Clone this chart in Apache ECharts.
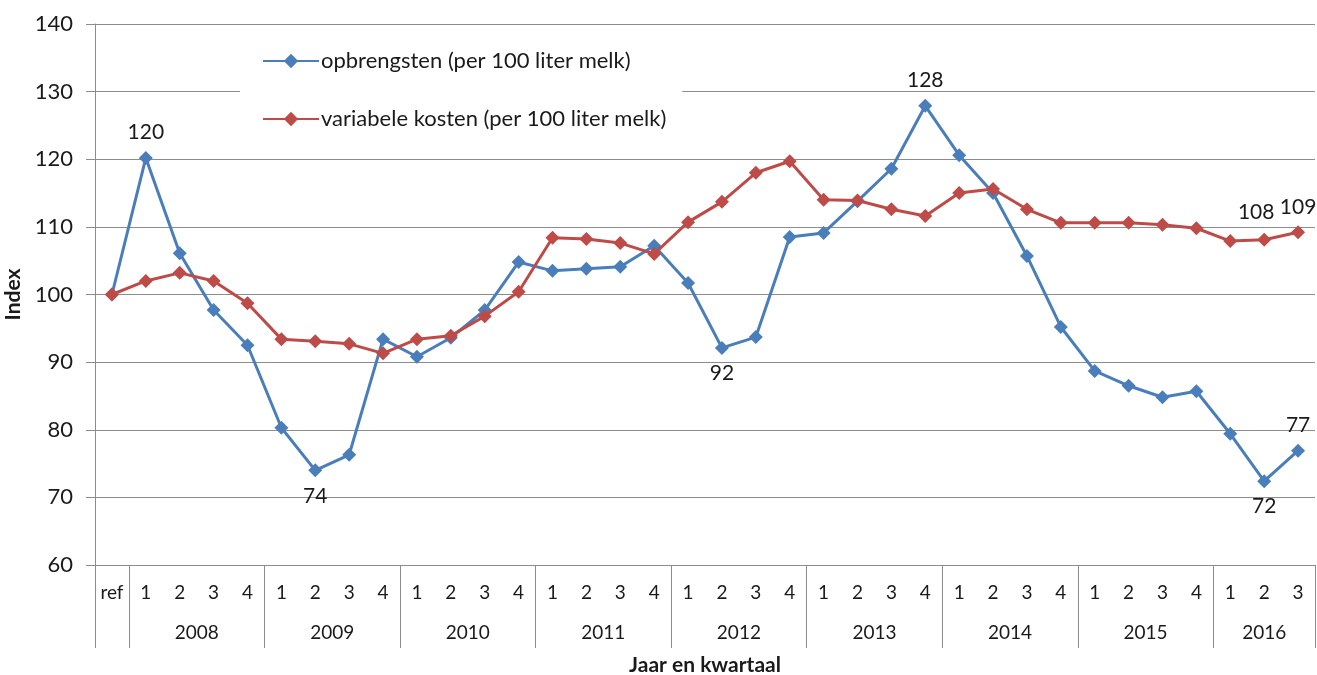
<!DOCTYPE html>
<html>
<head>
<meta charset="utf-8">
<title>Opbrengsten en variabele kosten melk</title>
<script src="https://cdn.jsdelivr.net/npm/echarts@6/dist/echarts.min.js"></script>
<style>
  html, body { margin: 0; padding: 0; background: #fff; }
  #chart { width: 1317px; height: 675px; }
</style>
</head>
<body>
<div id="chart"></div>
<script>
// categorieen: referentie + kwartalen 2008 t/m 2016 Q3
const quarterLabels = [
  'ref',
  '1', '2', '3', '4',
  '1', '2', '3', '4',
  '1', '2', '3', '4',
  '1', '2', '3', '4',
  '1', '2', '3', '4',
  '1', '2', '3', '4',
  '1', '2', '3', '4',
  '1', '2', '3', '4',
  '1', '2', '3'
];
const years = ['2008', '2009', '2010', '2011', '2012', '2013', '2014', '2015', '2016'];
const quartersPerYear = [4, 4, 4, 4, 4, 4, 4, 4, 3];

const opbrengsten = [
  100,
  120.2, 106.1, 97.7, 92.5,
  80.3, 74.0, 76.3, 93.4,
  90.8, 93.6, 97.7, 104.8,
  103.5, 103.8, 104.1, 107.2,
  101.7, 92.1, 93.7, 108.5,
  109.1, 113.8, 118.6, 127.9,
  120.6, 115.0, 105.7, 95.2,
  88.7, 86.5, 84.8, 85.7,
  79.4, 72.4, 76.9
];
const variabeleKosten = [
  100,
  102.0, 103.2, 102.0, 98.7,
  93.4, 93.1, 92.7, 91.3,
  93.4, 93.9, 96.8, 100.4,
  108.4, 108.2, 107.6, 106.0,
  110.7, 113.7, 118.0, 119.7,
  114.0, 113.9, 112.6, 111.6,
  115.0, 115.6, 112.6, 110.6,
  110.6, 110.6, 110.3, 109.8,
  107.9, 108.1, 109.2
];

// welke punten een waardelabel krijgen, en waar
const opbrengstenLabels = { 1: 'top', 6: 'bottom', 18: 'bottom', 24: 'top', 34: 'bottom', 35: 'top' };
const kostenLabels = { 34: 'top', 35: 'top' };
const labelShift = { 34: [-8, -2] };

const FONT = 'Lato, "Open Sans", sans-serif';
const GRID_COLOR = '#8c8c8c';
const TEXT_COLOR = '#1a1a1a';
const BLUE = '#4a7ebb';
const RED = '#be4b48';

// grenzen van de jaargroepen op de x-as (in categorie-eenheden)
const boundaries = [0, 1];
const yearCenters = {};
years.forEach((y, i) => {
  const start = boundaries[boundaries.length - 1];
  const end = start + quartersPerYear[i];
  boundaries.push(end);
  yearCenters[(start + end) / 2] = y;
});
const yearCenterValues = Object.keys(yearCenters).map(Number);

function withLabels(values, labelMap, shifts) {
  return values.map((v, i) => {
    if (!(i in labelMap)) return v;
    return {
      value: v,
      label: {
        show: true,
        position: labelMap[i],
        distance: 8,
        offset: (shifts && shifts[i]) || [0, 0],
        formatter: () => String(Math.round(v)),
        color: TEXT_COLOR,
        fontSize: 21,
        fontFamily: FONT
      }
    };
  });
}

const chart = echarts.init(document.getElementById('chart'));

const option = {
  backgroundColor: '#fff',
  animation: false,
  textStyle: { fontFamily: FONT },
  grid: { left: 95, right: 2, top: 24, bottom: 110, containLabel: false, outerBoundsMode: 'none' },
  legend: {
    orient: 'vertical',
    left: 240,
    top: 38,
    backgroundColor: '#fff',
    padding: [12, 16, 14, 22],
    itemWidth: 56,
    itemHeight: 18,
    itemGap: 36,
    textStyle: { fontSize: 22, color: TEXT_COLOR, fontFamily: FONT, padding: [0, 0, 0, -3] },
    data: ['opbrengsten (per 100 liter melk)', 'variabele kosten (per 100 liter melk)']
  },
  xAxis: [
    {
      type: 'category',
      data: quarterLabels,
      boundaryGap: true,
      name: 'Jaar en kwartaal',
      nameLocation: 'middle',
      nameGap: 90,
      nameTextStyle: { fontSize: 21, fontWeight: 'bold', color: TEXT_COLOR, fontFamily: FONT },
      axisLine: { show: true, lineStyle: { color: GRID_COLOR, width: 1 } },
      axisTick: { show: false },
      axisLabel: { interval: 0, fontSize: 19, color: TEXT_COLOR, margin: 18, fontFamily: FONT },
      splitLine: { show: false }
    },
    {
      type: 'value',
      position: 'bottom',
      min: 0,
      max: quarterLabels.length,
      axisLine: { show: true, lineStyle: { color: GRID_COLOR, width: 1 } },
      axisTick: {
        show: true,
        length: 83,
        customValues: boundaries,
        lineStyle: { color: GRID_COLOR, width: 1 }
      },
      axisLabel: {
        show: true,
        customValues: yearCenterValues,
        formatter: (v) => yearCenters[v] || '',
        fontSize: 19,
        color: TEXT_COLOR,
        margin: 58,
        fontFamily: FONT
      },
      splitLine: { show: false }
    }
  ],
  yAxis: {
    type: 'value',
    min: 60,
    max: 140,
    interval: 10,
    name: 'Index',
    nameLocation: 'middle',
    nameGap: 68,
    nameTextStyle: { fontSize: 21, fontWeight: 'bold', color: TEXT_COLOR, fontFamily: FONT },
    axisLine: { show: true, lineStyle: { color: GRID_COLOR, width: 1 } },
    axisTick: { show: true, length: 9, lineStyle: { color: GRID_COLOR } },
    axisLabel: { fontSize: 22, color: TEXT_COLOR, margin: 22, fontFamily: FONT },
    splitLine: { show: true, lineStyle: { color: GRID_COLOR, width: 1 } }
  },
  series: [
    {
      name: 'opbrengsten (per 100 liter melk)',
      type: 'line',
      xAxisIndex: 0,
      data: withLabels(opbrengsten, opbrengstenLabels),
      symbol: 'diamond',
      symbolSize: 14,
      lineStyle: { color: BLUE, width: 3 },
      itemStyle: { color: BLUE },
      z: 2
    },
    {
      name: 'variabele kosten (per 100 liter melk)',
      type: 'line',
      xAxisIndex: 0,
      data: withLabels(variabeleKosten, kostenLabels, labelShift),
      symbol: 'diamond',
      symbolSize: 14,
      lineStyle: { color: RED, width: 3 },
      itemStyle: { color: RED },
      z: 3
    }
  ]
};

chart.setOption(option);
</script>
</body>
</html>
